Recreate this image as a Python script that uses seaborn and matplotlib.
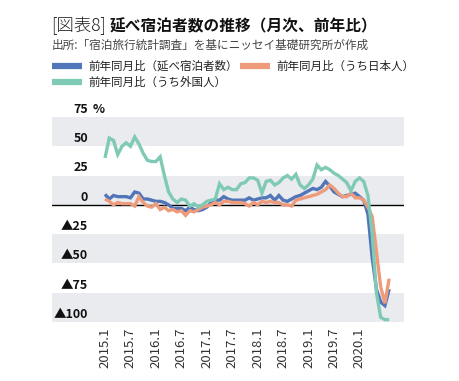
import numpy as np
import pandas as pd
import matplotlib
matplotlib.use("Agg")
import matplotlib.pyplot as plt
from matplotlib.lines import Line2D
import seaborn as sns

# ---------------- data ----------------
months = [f"{y}.{m}" for y in range(2015, 2021) for m in range(1, 13)][:68]  # 2015.1 - 2020.8

total = [9, 5, 8, 7, 7, 7, 6, 11, 10, 5, 5, 4, 3, 3, 2, 0, -3, -3, -3, -5,
         -2, -4, -5, -4, -2, 2, 4, 4, 7, 5, 4, 4, 4, 4, 6, 4, 5, 6, 6, 8,
         4, 8, 4, 3, 5, 7, 8, 10, 12, 14, 13, 15, 20, 16, 11, 9, 7, 8, 9, 10,
         7, 4, -8, -45, -72, -83, -86, -72]
japanese = [5, 3, 0, 2, 1, 1, 1, -1, 7, 2, -1, -2, 1, -4, -2, -5, -4, -6, -5, -9,
            -5, -6, -4, -2, -1, 0, 2, 0, 3, 3, 2, 2, 2, 1, -1, 2, 0, 3, 2, 3,
            2, 2, 0, 0, -1, 4, 5, 6, 7, 8, 9, 11, 13, 17, 14, 10, 7, 7, 10, 6,
            6, 4, -2, -10, -40, -70, -84, -63]
foreign = [40, 57, 55, 43, 50, 53, 50, 58, 52, 44, 38, 37, 37, 41, 25, 11, 5, 2, 5, 4,
           -1, 1, -2, 0, 3, 4, 5, 18, 13, 15, 13, 13, 18, 19, 23, 23, 21, 10, 20, 21,
           17, 19, 23, 25, 22, 26, 17, 14, 17, 22, 34, 30, 32, 30, 27, 25, 22, 19, 12, 20,
           23, 20, 8, -25, -75, -96, -98, -98]

series_names = ["前年同月比（延べ宿泊者数）", "前年同月比（うち日本人）", "前年同月比（うち外国人）"]
colors = ["#5075b8", "#ee9b7c", "#7fcab5"]
xtick_labels = ["2015.1", "2015.7", "2016.1", "2016.7", "2017.1", "2017.7",
                "2018.1", "2018.7", "2019.1", "2019.7", "2020.1"]
ytick_values = [75, 50, 25, 0, -25, -50, -75, -100]
ytick_labels = ["75 %", "50", "25", "0", "▲25", "▲50", "▲75", "▲100"]

# ---------------- figure ----------------
W, H = 459, 381
sns.set_theme(style="white")
plt.rcParams["font.family"] = ["Noto Sans CJK JP", "DejaVu Sans"]

fig = plt.figure(figsize=(W / 100, H / 100), dpi=100)
fig.patch.set_facecolor("white")

def fx(px):
    return px / W

def fy(py):
    return 1 - py / H

ax_left, ax_right, ax_top, ax_bottom = 52, 404, 117, 322
ax = fig.add_axes([fx(ax_left), fy(ax_bottom), fx(ax_right - ax_left), (ax_bottom - ax_top) / H])
ax.set_facecolor("white")

# shaded bands
band_color = "#e9ebee"
for lo, hi in [(50, 75), (0, 25), (-50, -25), (-100, -75)]:
    ax.axhspan(lo, hi, color=band_color, lw=0, zorder=0)
ax.axhline(0, color="black", lw=1.0, zorder=1)

idx = np.arange(len(months))
df = pd.DataFrame({
    "i": np.tile(idx, 3),
    "value": total + japanese + foreign,
    "series": np.repeat(series_names, len(months)),
})
sns.lineplot(data=df, x="i", y="value", hue="series", hue_order=series_names,
             palette=colors, linewidth=2.4, legend=False, ax=ax, zorder=3,
             solid_joinstyle="miter", solid_capstyle="butt")

ax.set_xlim(-12.5, 70.5)
ax.set_ylim(-100, 75)
for s in ax.spines.values():
    s.set_visible(False)

xt = [months.index(l) for l in xtick_labels]
ax.set_xticks(xt)
ax.set_xticklabels(xtick_labels, rotation=90, fontsize=9.5, color="#333333")
ax.tick_params(axis="x", length=0, pad=4)
ax.set_yticks([])
ax.set_xlabel("")
ax.set_ylabel("")

# y labels inside the plot, sitting on their gridline
tr = ax.get_yaxis_transform()
lab_x = (88 - ax_left) / (ax_right - ax_left)
for v, lab in zip(ytick_values, ytick_labels):
    if lab.endswith("%"):
        num = lab.replace("%", "").strip()
        ax.text(lab_x, v + 1, num, transform=tr, ha="right", va="bottom",
                fontsize=9, fontweight="bold", color="#111111", clip_on=False)
        ax.text(lab_x + 0.012, v + 1, "%", transform=tr, ha="left", va="bottom",
                fontsize=9, fontweight="bold", color="#111111", clip_on=False)
    else:
        ax.text(lab_x, v + 1, lab, transform=tr, ha="right", va="bottom",
                fontsize=9, fontweight="bold", color="#111111", clip_on=False)

# title / subtitle
fig.text(fx(51), fy(26), "[図表8]", fontsize=12.5, fontweight="light",
         color="#222222", ha="left", va="center")
fig.text(fx(110), fy(26), "延べ宿泊者数の推移（月次、前年比）", fontsize=11.3,
         fontweight="bold", color="#111111", ha="left", va="center")
fig.text(fx(52), fy(45), "出所:「宿泊旅行統計調査」を基にニッセイ基礎研究所が作成",
         fontsize=8.4, color="#444444", ha="left", va="center")

# legend (manual)
legend_pos = [(52, 66), (240, 66), (52, 82)]
for (lx, ly), name, c in zip(legend_pos, series_names, colors):
    fig.add_artist(Line2D([fx(lx), fx(lx + 30)], [fy(ly), fy(ly)], color=c,
                          lw=4.5, solid_capstyle="butt", transform=fig.transFigure))
    fig.text(fx(lx + 36), fy(ly), name, fontsize=8.3, color="#222222",
             ha="left", va="center")

fig.savefig("out.png", dpi=100, facecolor="white")
